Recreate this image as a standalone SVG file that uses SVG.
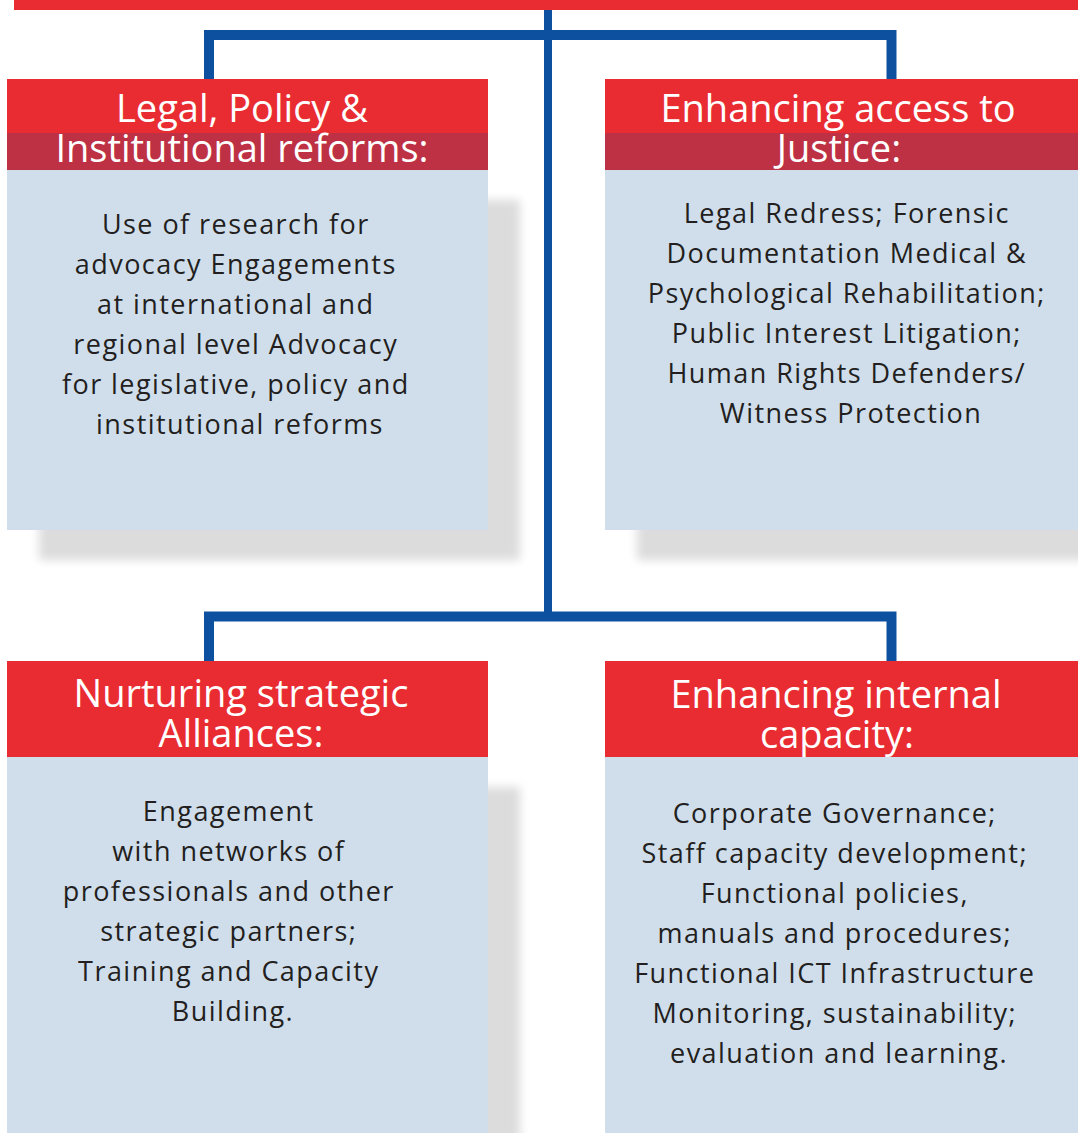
<svg xmlns="http://www.w3.org/2000/svg" width="1078" height="1133" viewBox="0 0 1078 1133">
  <defs>
    <filter id="soft" x="-20%" y="-20%" width="140%" height="140%">
      <feGaussianBlur stdDeviation="5"/>
    </filter>
  </defs>
  <style>
    .link { fill: none; stroke: #0E50A0; stroke-width: 10; stroke-linejoin: miter; }
    .trunk { fill: none; stroke: #0E50A0; stroke-width: 8; }
    .shadow { fill: #DCDCDC; filter: url(#soft); }
    .head { fill: #E92C32; }
    .band { fill: #BE3043; }
    .body { fill: #D0DEEC; }
    .title { font-family: "Open Sans", "Liberation Sans", sans-serif; font-size: 38px; fill: #FFFFFF; text-anchor: middle; }
    .desc { font-family: "Open Sans", "Liberation Sans", sans-serif; font-size: 27px; letter-spacing: 1.45px; fill: #231F20; text-anchor: middle; }
  </style>

  <rect width="1078" height="1133" fill="#FFFFFF"/>

  <!-- drop shadows behind the four panels -->
  <g id="shadows">
    <rect class="shadow" x="39" y="200" width="481" height="360"/>
    <rect class="shadow" x="637" y="200" width="473" height="360"/>
    <rect class="shadow" x="39" y="787" width="481" height="376"/>
    <rect class="shadow" x="637" y="787" width="473" height="376"/>
  </g>

  <!-- connectors -->
  <g id="connectors">
    <path class="trunk" d="M548,8 V617"/>
    <path class="link" d="M209,80 V35 H891.5 V80"/>
    <path class="link" d="M209,662 V616.5 H891.5 V662"/>
  </g>

  <!-- top bar -->
  <g id="top-bar">
    <rect x="14" y="0" width="1064" height="10" fill="#E92C32"/>
  </g>

  <g id="legal-policy">
    <rect class="head" x="7" y="79" width="481" height="54"/>
    <rect class="band" x="7" y="133" width="481" height="37"/>
    <rect class="body" x="7" y="170" width="481" height="360"/>
    <text class="title"><tspan x="242" y="122">Legal, Policy &amp;</tspan><tspan x="242" y="162">Institutional reforms:</tspan></text>
    <text class="desc">
      <tspan x="240" y="234">Use of research for</tspan>
      <tspan x="240" y="274">advocacy Engagements</tspan>
      <tspan x="240" y="314">at international and</tspan>
      <tspan x="240" y="354">regional level Advocacy</tspan>
      <tspan x="240" y="394">for legislative, policy and</tspan>
      <tspan x="240" y="434">institutional reforms</tspan>
    </text>
  </g>

  <g id="access-to-justice">
    <rect class="head" x="605" y="79" width="473" height="54"/>
    <rect class="band" x="605" y="133" width="473" height="37"/>
    <rect class="body" x="605" y="170" width="473" height="360"/>
    <text class="title"><tspan x="838" y="122">Enhancing access to</tspan><tspan x="839" y="162">Justice:</tspan></text>
    <text class="desc">
      <tspan x="851" y="223">Legal Redress; Forensic</tspan>
      <tspan x="851" y="263">Documentation Medical &amp;</tspan>
      <tspan x="851" y="303">Psychological Rehabilitation;</tspan>
      <tspan x="851" y="343">Public Interest Litigation;</tspan>
      <tspan x="851" y="383">Human Rights Defenders/</tspan>
      <tspan x="851" y="423">Witness Protection</tspan>
    </text>
  </g>

  <g id="strategic-alliances">
    <rect class="head" x="7" y="661" width="481" height="96"/>
    <rect class="body" x="7" y="757" width="481" height="376"/>
    <text class="title"><tspan x="241" y="707">Nurturing strategic</tspan><tspan x="241" y="747">Alliances:</tspan></text>
    <text class="desc">
      <tspan x="233" y="821">Engagement</tspan>
      <tspan x="233" y="861">with networks of</tspan>
      <tspan x="233" y="901">professionals and other</tspan>
      <tspan x="233" y="941">strategic partners;</tspan>
      <tspan x="233" y="981">Training and Capacity</tspan>
      <tspan x="233" y="1021">Building.</tspan>
    </text>
  </g>

  <g id="internal-capacity">
    <rect class="head" x="605" y="661" width="473" height="96"/>
    <rect class="body" x="605" y="757" width="473" height="376"/>
    <text class="title"><tspan x="836" y="708">Enhancing internal</tspan><tspan x="837" y="748">capacity:</tspan></text>
    <text class="desc">
      <tspan x="839" y="823">Corporate Governance;</tspan>
      <tspan x="839" y="863">Staff capacity development;</tspan>
      <tspan x="839" y="903">Functional policies,</tspan>
      <tspan x="839" y="943">manuals and procedures;</tspan>
      <tspan x="839" y="983">Functional ICT Infrastructure</tspan>
      <tspan x="839" y="1023">Monitoring, sustainability;</tspan>
      <tspan x="839" y="1063">evaluation and learning.</tspan>
    </text>
  </g>
</svg>
